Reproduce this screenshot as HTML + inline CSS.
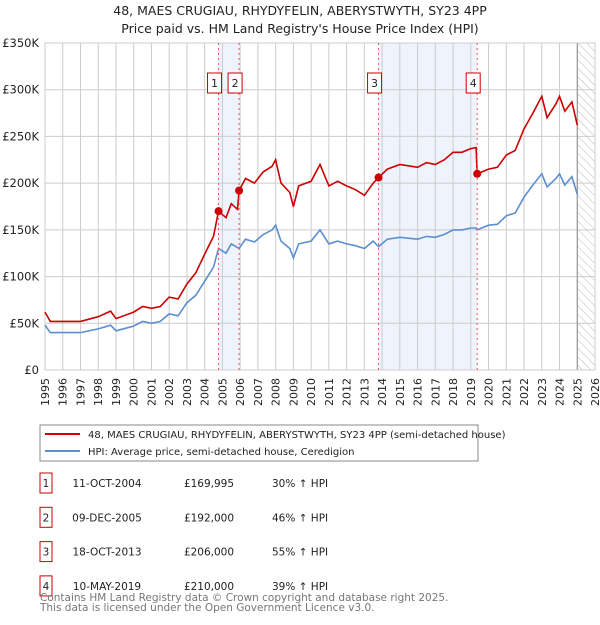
<!DOCTYPE html>
<html><head><meta charset="utf-8"><style>
body{margin:0;background:#fff;font-family:"Liberation Sans","DejaVu Sans",sans-serif;}
svg text{font-family:"DejaVu Sans","Liberation Sans",sans-serif;}
</style></head><body>
<svg width="600" height="620" xmlns="http://www.w3.org/2000/svg" id="chart">
<defs><pattern id="hatch" width="6" height="6" patternUnits="userSpaceOnUse" patternTransform="rotate(-45)"><line x1="0" y1="0" x2="0" y2="6" stroke="#bbb" stroke-width="1"/></pattern></defs>
<text x="300" y="15" text-anchor="middle" font-size="12.5" fill="#222">48, MAES CRUGIAU, RHYDYFELIN, ABERYSTWYTH, SY23 4PP</text>
<text x="300" y="33" text-anchor="middle" font-size="12.5" fill="#222">Price paid vs. HM Land Registry's House Price Index (HPI)</text>
<g id="bands"></g><g id="grid"></g><g id="axes"></g><g id="series"></g><g id="markers"></g>
<rect x="40" y="425" width="438" height="36" fill="#fff" stroke="#888"/>
<line x1="45" y1="434" x2="80" y2="434" stroke="#cc0000" stroke-width="2"/>
<text x="88" y="438" font-size="10" fill="#222">48, MAES CRUGIAU, RHYDYFELIN, ABERYSTWYTH, SY23 4PP (semi-detached house)</text>
<line x1="45" y1="451" x2="80" y2="451" stroke="#5b8fd0" stroke-width="2"/>
<text x="88" y="455" font-size="10" fill="#222">HPI: Average price, semi-detached house, Ceredigion</text>
<g id="table"></g>
<text x="40" y="601" font-size="10.5" fill="#777">Contains HM Land Registry data © Crown copyright and database right 2025.</text>
<text x="40" y="611" font-size="10.5" fill="#777">This data is licensed under the Open Government Licence v3.0.</text>
</svg>
<script>
const years=[1995,1995.3,1996,1997,1998,1998.7,1999,2000,2000.5,2001,2001.5,2002,2002.5,2003,2003.5,2004,2004.5,2004.78,2005.2,2005.5,2005.85,2005.94,2006.3,2006.8,2007.3,2007.8,2008,2008.3,2008.8,2009,2009.3,2010,2010.5,2011,2011.5,2012,2012.5,2013,2013.5,2013.8,2014.3,2015,2016,2016.5,2017,2017.5,2018,2018.5,2019,2019.3,2019.36,2020,2020.5,2021,2021.5,2022,2022.5,2023,2023.3,2023.8,2024,2024.3,2024.7,2025];
const hpiK=[48,40,40,40,44,48,42,47,52,50,52,60,58,72,80,95,110,130,125,135,131,130,140,137,145,150,155,138,130,120,135,138,150,135,138,135,133,130,138,132,140,142,140,143,142,145,150,150,152,152,150,155,156,165,168,185,198,210,196,205,210,198,207,188];
const priceK=[62,52,52,52,57,63,55,62,68,66,68,78,76,92,104,124,143,170,163,178,172,192,205,200,212,218,225,200,190,175,197,202,220,197,202,197,193,187,200,206,215,220,217,222,220,225,233,233,237,238,210,215,217,230,235,258,275,293,270,285,293,277,287,262];
const saleYears=[2004.78,2005.94,2013.8,2019.36];
const saleK=[169.995,192,206,210];
const saleDates=["11-OCT-2004","09-DEC-2005","18-OCT-2013","10-MAY-2019"];
const salePrices=["£169,995","£192,000","£206,000","£210,000"];
const salePct=["30% ↑ HPI","46% ↑ HPI","55% ↑ HPI","39% ↑ HPI"];
const yTicks=[0,50,100,150,200,250,300,350];
const yLabels=["£0","£50K","£100K","£150K","£200K","£250K","£300K","£350K"];
const xTicks=[1995,1996,1997,1998,1999,2000,2001,2002,2003,2004,2005,2006,2007,2008,2009,2010,2011,2012,2013,2014,2015,2016,2017,2018,2019,2020,2021,2022,2023,2024,2025,2026];
const NS="http://www.w3.org/2000/svg";
const X0=45,X1=595,Y0=370,Y1=43;
const xs=y=>X0+(y-1995)*(X1-X0)/31;
const ys=v=>Y0-v*(Y0-Y1)/350;
function mk(p,tag,a){const e=document.createElementNS(NS,tag);for(const k in a)e.setAttribute(k,a[k]);document.getElementById(p).appendChild(e);return e;}
let e;
e=mk('bands','rect',{x:xs(saleYears[0]),y:Y1,width:xs(saleYears[1])-xs(saleYears[0]),height:Y0-Y1,fill:'#eef3fc'});


e=mk('bands','rect',{x:xs(saleYears[2]),y:Y1,width:xs(saleYears[3])-xs(saleYears[2]),height:Y0-Y1,fill:'#eef3fc'});


e=mk('bands','rect',{x:xs(2025),y:Y1,width:X1-xs(2025),height:Y0-Y1,fill:'url(#hatch)'});


xTicks.forEach(t=>{
 e=mk('grid','line',{x1:xs(t),x2:xs(t),y1:Y1,y2:Y0,stroke:'#ccc','stroke-width':1});
 
 
 const lx=xs(t)+4, ly=Y0+8;
 e=mk('axes','text',{x:lx,y:ly,'text-anchor':'end','font-size':11,fill:'#222',transform:'rotate(-90 '+lx+' '+ly+')'});
 e.textContent=t;
 
 
});
yTicks.forEach((t,i)=>{
 e=mk('grid','line',{x1:X0,x2:X1,y1:ys(t),y2:ys(t),stroke:'#ccc','stroke-width':1});
 
 
 e=mk('axes','text',{x:X0-6,y:ys(t)+4,'text-anchor':'end','font-size':11.5,fill:'#222'});
 e.textContent=yLabels[i];
 
 
});
e=mk('grid','line',{x1:xs(2025),x2:xs(2025),y1:Y1,y2:Y0,stroke:'#888','stroke-width':1});


saleYears.forEach((s,i)=>{
 e=mk('markers','line',{x1:xs(s),x2:xs(s),y1:Y1,y2:Y0,stroke:'#e55','stroke-width':1,'stroke-dasharray':'2,3'});
 
 
});
const pts=a=>a.map((v,i)=>xs(years[i]).toFixed(1)+','+ys(v).toFixed(1)).join(' ');
e=mk('series','polyline',{points:pts(hpiK),fill:'none',stroke:'#5b8fd0','stroke-width':1.6});


e=mk('series','polyline',{points:pts(priceK),fill:'none',stroke:'#cc0000','stroke-width':1.6});


saleYears.forEach((s,i)=>{
 e=mk('markers','circle',{cx:xs(s),cy:ys(saleK[i]),r:4,fill:'#cc0000'});
 
 
 const cx=xs(s)-4;
 e=mk('markers','rect',{x:cx-7,y:73,width:14,height:20,fill:'#fff',stroke:'#cc0000'});
 
 
 e=mk('markers','text',{x:cx,y:87,'text-anchor':'middle','font-size':11,fill:'#222'});
 e.textContent=i+1;
 
 
});
saleDates.forEach((d,i)=>{
 const cy=483+i*34.3;
 e=mk('table','rect',{x:40,y:cy-10,width:12,height:20,fill:'#fff',stroke:'#cc0000'});
 
 
 e=mk('table','text',{x:46,y:cy+4,'text-anchor':'middle','font-size':10.5,fill:'#222'});
 e.textContent=i+1;
 
 
 e=mk('table','text',{x:107,y:cy+4,'text-anchor':'middle','font-size':10.5,fill:'#222'});
 e.textContent=d;
 
 
 e=mk('table','text',{x:209,y:cy+4,'text-anchor':'middle','font-size':10.5,fill:'#222'});
 e.textContent=salePrices[i];
 
 
 e=mk('table','text',{x:272,y:cy+4,'font-size':10.5,fill:'#222'});
 e.textContent=salePct[i];
 
 
});
e=mk('axes','rect',{x:X0,y:Y1,width:X1-X0,height:Y0-Y1,fill:'none',stroke:'#ccc'});


</script>
</body></html>
